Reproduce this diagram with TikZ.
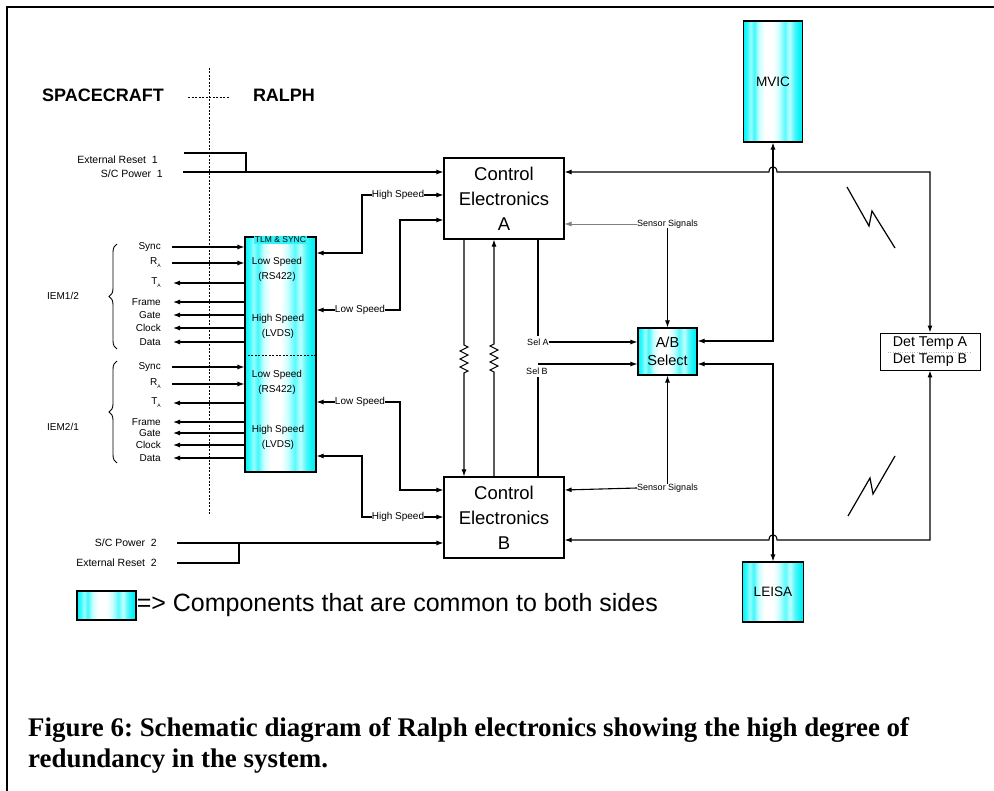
\documentclass[tikz,border=0pt]{standalone}
\usepackage{fontspec}
\setmainfont{Liberation Sans}
\newfontfamily\capfont{Liberation Serif}
\usetikzlibrary{arrows.meta,decorations.pathreplacing,decorations.pathmorphing,calc}
\definecolor{aqua}{rgb}{0.2,0.95,0.97}
\pgfdeclarehorizontalshading{cyanbars}{100bp}{
rgb(0bp)=(0,0.96,0.98);
rgb(25bp)=(0,0.96,0.98);
rgb(28bp)=(0.2,0.98,0.99);
rgb(31bp)=(0.6,1,1);
rgb(34bp)=(0.25,0.97,0.98);
rgb(38bp)=(0.78,1,1);
rgb(43bp)=(1,1,1);
rgb(50bp)=(1,1,1);
rgb(55bp)=(0.8,1,1);
rgb(60bp)=(0.35,0.98,0.99);
rgb(64bp)=(0.75,1,1);
rgb(68bp)=(0.3,0.97,0.98);
rgb(72bp)=(0.05,0.95,0.97);
rgb(75bp)=(0,0.94,0.96);
rgb(100bp)=(0,0.94,0.96)}
\tikzset{
  fs/.style={font=\fontsize{#1}{#1}\selectfont},
  lbl/.style={inner sep=0pt, fs=10},
  tiny/.style={inner sep=0pt, fs=9},
  arr/.style={-{Latex[length=7pt,width=5pt]}},
  arrb/.style={{Latex[length=7pt,width=5pt]}-{Latex[length=7pt,width=5pt]}},
  wire/.style={line width=1.1pt},
  blk/.style={draw, line width=1.1pt, inner sep=0pt, align=center},
  cyanbox/.style={blk, shading=cyanbars},
  zz/.style={decoration={zigzag,segment length=8pt,amplitude=4pt}},
  divline/.style={line width=0.7pt, dash pattern=on 2pt off 1.5pt}
}
\begin{document}
\frenchspacing
\begin{tikzpicture}[x=1pt,y=-1pt]
\useasboundingbox (0,0) rectangle (994,791);
% frame
\draw[line width=1.5pt] (7,791) -- (7,7) -- (994,7);
% headings
\node[inner sep=0pt, font=\bfseries\fontsize{18}{18}\selectfont] (sc) at (103,95) {SPACECRAFT};
\node[inner sep=0pt, font=\bfseries\fontsize{18}{18}\selectfont] (ralph) at (284,95) {RALPH};
\coordinate (dvt) at (209,68);
\coordinate (dvb) at (209,516);
\draw[divline] (dvt) -- (dvb);
\draw[divline] (188,97) -- (230,97);
% main blocks
\node[blk, minimum width=120pt, minimum height=81pt, font=\fontsize{18.5}{25}\selectfont] (A) at (504,198.5) {Control\\Electronics\\A};
\node[blk, minimum width=120pt, minimum height=81pt, font=\fontsize{18.5}{25}\selectfont] (B) at (504,517.5) {Control\\Electronics\\B};
\node[cyanbox, minimum width=71pt, minimum height=235pt] (TLM) at (280.5,354.5) {};
\node[cyanbox, minimum width=59pt, minimum height=47pt, font=\fontsize{14.5}{18}\selectfont] (AB) at (667.5,351.5) {A/B\\Select};
\node[cyanbox, minimum width=59pt, minimum height=121pt, font=\fontsize{13.6}{14}\selectfont] (MVIC) at (773,81.5) {MVIC};
\node[cyanbox, minimum width=61pt, minimum height=60pt, font=\fontsize{13.6}{14}\selectfont] (LEISA) at (773,592) {LEISA};
\node[blk, line width=0.9pt, minimum width=100pt, minimum height=37pt, font=\fontsize{14.2}{17}\selectfont] (DT) at (930,351.5) {Det Temp A\\Det Temp B};
\draw[gray!60, dotted] (888,352) -- (970,352);
% TLM contents
\node[inner sep=1pt, fill=aqua, fs=8.5] (tlmt) at (280.5,240) {TLM \& SYNC};
\draw[divline] (TLM.west |- 0,355) -- (TLM.east |- 0,355);
\node[lbl, align=center, font=\fontsize{10}{15}\selectfont] (t1) at (277,269.5) {Low Speed\\(RS422)};
\node[lbl, align=center, font=\fontsize{10}{15}\selectfont] (t2) at (278,326) {High Speed\\(LVDS)};
\node[lbl, align=center, font=\fontsize{10}{15}\selectfont] (t3) at (277,382) {Low Speed\\(RS422)};
\node[lbl, align=center, font=\fontsize{10}{15}\selectfont] (t4) at (278,437) {High Speed\\(LVDS)};
% left signals
\newcommand{\RA}{R\raisebox{-3pt}{\fontsize{5}{5}\selectfont A}}
\newcommand{\TA}{T\raisebox{-3pt}{\fontsize{5}{5}\selectfont A}}
\foreach \nm/\txt/\yy in {s1/Sync/247, r1/\RA/263, s2/Sync/367, r2/\RA/384}{
  \node[lbl, anchor=east] (\nm) at (161,\yy) {\txt};
  \draw[wire, arr] (172,\yy) -- (TLM.west |- 0,\yy);
}
\foreach \nm/\txt/\yy in {ta1/\TA/283, f1/Frame/302, g1/Gate/315, c1/Clock/328, d1/Data/342,
                          ta2/\TA/403, f2/Frame/422, g2/Gate/433, c2/Clock/445, d2/Data/458}{
  \node[lbl, anchor=east] (\nm) at (161,\yy) {\txt};
  \draw[wire, arr] (TLM.west |- 0,\yy) -- (173,\yy);
}
\draw[decorate, decoration={brace, amplitude=8pt}, line width=0.9pt] (117,349) -- (117,244);
\draw[decorate, decoration={brace, amplitude=8pt}, line width=0.9pt] (117,463) -- (117,361);
\node[lbl] (iem1) at (63,296) {IEM1/2};
\node[lbl] (iem2) at (63,427) {IEM2/1};
% spacecraft power / reset 1
\node[lbl, anchor=east, fs=10.5] (er1l) at (158,160) {External Reset \ 1};
\node[lbl, anchor=east, fs=10.5] (sp1l) at (163,174) {S/C Power \ 1};
\coordinate (er1) at (184,153);
\coordinate (sp1) at (183,172);
\draw[wire] (er1) -- (246,153) -- (246,172);
\draw[wire, arr] (sp1) -- (sp1 -| A.west);
% spacecraft power / reset 2
\node[lbl, anchor=east, fs=10.5] (sp2l) at (157,543) {S/C Power \ 2};
\node[lbl, anchor=east, fs=10.5] (er2l) at (157,563) {External Reset \ 2};
\coordinate (sp2) at (177,543);
\coordinate (er2) at (177,563);
\draw[wire, arr] (sp2) -- (sp2 -| B.west);
\draw[wire] (er2) -- (239,563) -- (239,543);
% TLM <-> control electronics
\node[lbl] (hs1) at (398,195) {High Speed};
\draw[wire, arr] (hs1.east) -- (hs1 -| A.west);
\draw[wire, arr] (hs1.west) -- (362,195) -- (362,253) -- (TLM.east |- 0,253);
\node[lbl] (ls1) at (360,310) {Low Speed};
\draw[wire, arr] (ls1.west) -- (TLM.east |- ls1);
\draw[wire, arr] (ls1.east) -- (400,310) -- (400,220) -- (A.west |- 0,220);
\node[lbl] (ls2) at (360,402) {Low Speed};
\draw[wire, arr] (ls2.west) -- (TLM.east |- ls2);
\draw[wire, arr] (ls2.east) -- (400,402) -- (400,490) -- (B.west |- 0,490);
\node[lbl] (hs2) at (398,517) {High Speed};
\draw[wire, arr] (hs2.east) -- (hs2 -| B.west);
\draw[wire, arr] (hs2.west) -- (362,517) -- (362,456) -- (TLM.east |- 0,456);
% A <-> B cross links with resistors
\draw[wire, arr] (464,0 |- A.south) -- (464,345) decorate[zz] {-- (464,375)} -- (464,0 |- B.north);
\draw[wire, arr] (494,0 |- B.north) -- (494,372) decorate[zz] {-- (494,342)} -- (494,0 |- A.south);
% select lines
\node[tiny] (selA) at (538,342) {Sel A};
\node[tiny] (selB) at (537,371) {Sel B};
\draw[wire] (538,0 |- A.south) -- (538,336);
\draw[wire, arr] (selA.east) -- (selA -| AB.west);
\draw[wire] (538,0 |- B.north) -- (538,377);
\draw[wire, arr] (538,364) -- (AB.west |- 0,364);
% sensor signals
\node[tiny] (ss1) at (667.5,224) {Sensor Signals};
\draw[gray, line width=0.7pt, arr] (ss1.west) -- (ss1 -| A.east);
\draw[wire, arr] (ss1.south) -- (AB.north);
\node[tiny] (ss2) at (667.5,488) {Sensor Signals};
\draw[wire, arr] (ss2.west) -- (B.east |- 0,490);
\draw[wire, arr] (ss2.north) -- (AB.south);
% det temp loops
\draw[wire, arrb] (A.east |- 0,172) -- (769,172) .. controls (769,165) and (777,165) .. (777,172) -- (DT.north |- 0,172) -- (DT.north);
\draw[wire, arrb] (B.east |- 0,540) -- (769,540) .. controls (769,533) and (777,533) .. (777,540) -- (DT.south |- 0,540) -- (DT.south);
% MVIC / LEISA links
\draw[wire, arrb] (AB.east |- 0,341) -- (MVIC.south |- 0,341) -- (MVIC.south);
\draw[wire, arrb] (AB.east |- 0,364) -- (LEISA.north |- 0,364) -- (LEISA.north);
% lightning bolts
\draw[line width=1.2pt] (847,187) -- (869,226) -- (872,211) -- (895,248);
\draw[line width=1.2pt] (848,516) -- (870,478) -- (873,494) -- (895,456);
% legend
\node[cyanbox, minimum width=59pt, minimum height=29pt] (leg) at (106.5,605.5) {};
\node[inner sep=0pt, anchor=west, fs=25] (legt) at (leg.east) {=> Components that are common to both sides};
% caption
\node[inner sep=0pt, anchor=base west, font=\capfont\bfseries\fontsize{26.9}{26.9}\selectfont] (cap1) at (28,736) {Figure 6: Schematic diagram of Ralph electronics showing the high degree of};
\node[inner sep=0pt, anchor=base west, font=\capfont\bfseries\fontsize{26.9}{26.9}\selectfont] (cap2) at (28,767) {redundancy in the system.};
\end{tikzpicture}
\end{document}
